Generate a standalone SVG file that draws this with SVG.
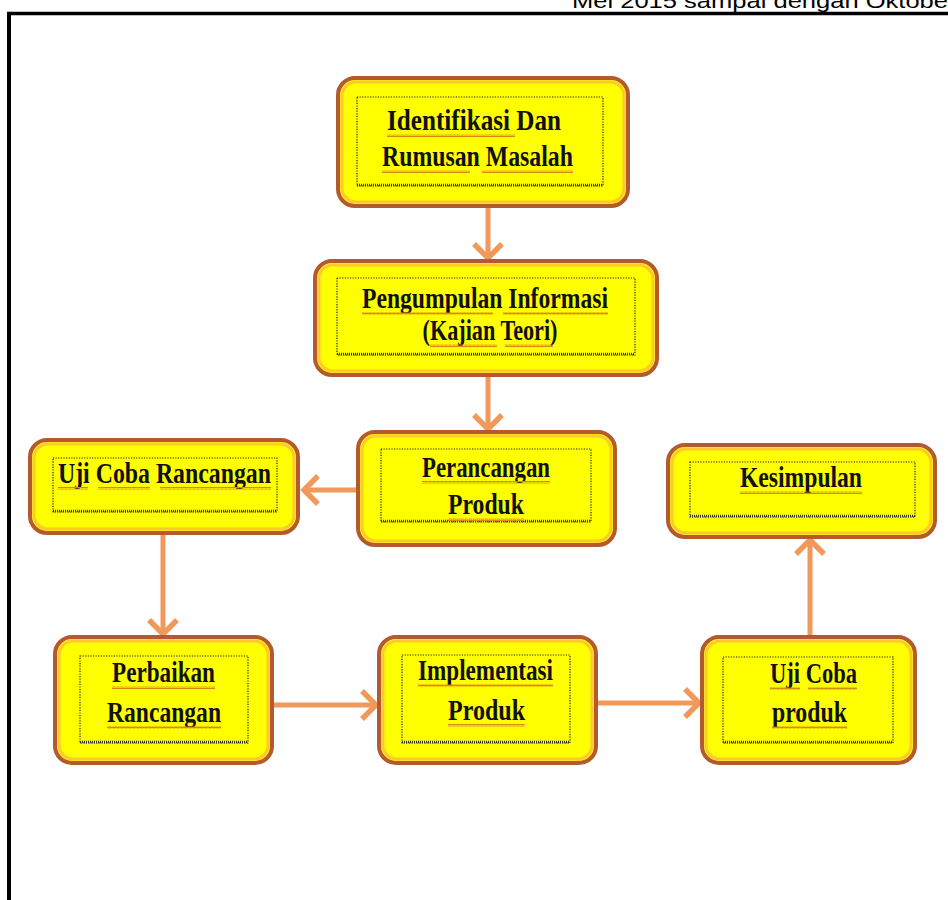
<svg xmlns="http://www.w3.org/2000/svg" width="948" height="900" viewBox="0 0 948 900">
<style>
.box{fill:#ffff00;stroke:#b35a2e;stroke-width:4}
.glow{fill:none;stroke:#ffc830;stroke-width:3}
.inner{fill:none;stroke:#222;stroke-width:1.2;stroke-dasharray:1.2 1.4}
.innerb{fill:none;stroke:#333;stroke-width:2.4;stroke-dasharray:1 1}
.lbl{font-family:"Liberation Serif","Times New Roman",serif;font-weight:bold;font-size:29px;fill:#111;text-anchor:middle}
.wv{fill:url(#wave)}
.conn{stroke:#f0995a;stroke-width:5;fill:none;stroke-linecap:butt}
.hdr{font-family:"Liberation Sans",Arial,sans-serif;font-size:20px;fill:#000}
</style>
<defs>
<pattern id="wave" x="0" y="0" width="4" height="3" patternUnits="userSpaceOnUse">
<path d="M0,2.5 L1,0.5 L2,2.5 L3,0.5 L4,2.5" fill="none" stroke="#d88a10" stroke-width="1"/>
</pattern>
<marker id="ah" markerUnits="userSpaceOnUse" markerWidth="28" markerHeight="34" refX="17" refY="16" orient="auto" viewBox="0 0 28 32">
<path d="M3,2 L17,16 L3,30" fill="none" stroke="#f0995a" stroke-width="5.5" stroke-linejoin="miter"/>
</marker>
</defs>

<text class="hdr" x="572" y="8" textLength="376" lengthAdjust="spacingAndGlyphs">Mei 2015 sampai dengan Oktobe</text>
<line x1="7" y1="13.5" x2="948" y2="13.5" stroke="#000" stroke-width="3.5"/>
<line x1="9" y1="12" x2="9" y2="900" stroke="#000" stroke-width="4"/>

<g id="connectors">
<line class="conn" x1="488" y1="208" x2="488" y2="258" marker-end="url(#ah)"/>
<line class="conn" x1="488" y1="377" x2="488" y2="429" marker-end="url(#ah)"/>
<line class="conn" x1="356" y1="490" x2="304" y2="490" marker-end="url(#ah)"/>
<line class="conn" x1="163" y1="535" x2="163" y2="634" marker-end="url(#ah)"/>
<line class="conn" x1="274" y1="705" x2="376" y2="705" marker-end="url(#ah)"/>
<line class="conn" x1="598" y1="703" x2="699" y2="703" marker-end="url(#ah)"/>
<line class="conn" x1="810" y1="635" x2="810" y2="540" marker-end="url(#ah)"/>
</g>

<g id="n1">
<rect class="box" x="338" y="78" width="290" height="128" rx="17"/>
<rect class="glow" x="342" y="82" width="282" height="120" rx="14"/>
<rect class="inner" x="357" y="97" width="246" height="89"/>
<line class="innerb" x1="357" y1="185" x2="603" y2="185"/>
<text class="lbl" x="474" y="130" textLength="174" lengthAdjust="spacingAndGlyphs">Identifikasi Dan</text>
<text class="lbl" x="477.5" y="166" textLength="191" lengthAdjust="spacingAndGlyphs">Rumusan Masalah</text>
<rect class="wv" x="387" y="134" width="128" height="3"/>
<rect class="wv" x="382" y="170" width="88" height="3"/>
<rect class="wv" x="482" y="170" width="91" height="3"/>
</g>

<g id="n2">
<rect class="box" x="315" y="261" width="342" height="114" rx="17"/>
<rect class="glow" x="319" y="265" width="334" height="106" rx="14"/>
<rect class="inner" x="337" y="278" width="298" height="77"/>
<line class="innerb" x1="337" y1="354" x2="635" y2="354"/>
<text class="lbl" x="485" y="308" textLength="246" lengthAdjust="spacingAndGlyphs">Pengumpulan Informasi</text>
<text class="lbl" x="490" y="340" textLength="135" lengthAdjust="spacingAndGlyphs">(Kajian Teori)</text>
<rect class="wv" x="362" y="312" width="131" height="3"/>
<rect class="wv" x="503" y="312" width="105" height="3"/>
<rect class="wv" x="430" y="344" width="67" height="3"/>
<rect class="wv" x="505" y="344" width="48" height="3"/>
</g>

<g id="n3">
<rect class="box" x="358" y="432" width="257" height="113" rx="17"/>
<rect class="glow" x="362" y="436" width="249" height="105" rx="14"/>
<rect class="inner" x="381" y="449" width="210" height="73"/>
<line class="innerb" x1="381" y1="521" x2="591" y2="521"/>
<text class="lbl" x="486" y="477" textLength="128" lengthAdjust="spacingAndGlyphs">Perancangan</text>
<text class="lbl" x="486" y="514" textLength="76" lengthAdjust="spacingAndGlyphs">Produk</text>
<rect class="wv" x="422" y="481" width="128" height="3"/>
<rect class="wv" x="448" y="518" width="76" height="3"/>
</g>

<g id="n4">
<rect class="box" x="30" y="440" width="268" height="93" rx="17"/>
<rect class="glow" x="34" y="444" width="260" height="85" rx="14"/>
<rect class="inner" x="53" y="458" width="224" height="54"/>
<line class="innerb" x1="53" y1="511" x2="277" y2="511"/>
<text class="lbl" x="164.5" y="483" textLength="213" lengthAdjust="spacingAndGlyphs">Uji Coba Rancangan</text>
<rect class="wv" x="58" y="487" width="30" height="3"/>
<rect class="wv" x="98" y="487" width="52" height="3"/>
<rect class="wv" x="160" y="487" width="111" height="3"/>
</g>

<g id="n5">
<rect class="box" x="55" y="637" width="217" height="126" rx="17"/>
<rect class="glow" x="59" y="641" width="209" height="118" rx="14"/>
<rect class="inner" x="80" y="656" width="168" height="87"/>
<line class="innerb" x1="80" y1="742" x2="248" y2="742"/>
<text class="lbl" x="163.5" y="682" textLength="103" lengthAdjust="spacingAndGlyphs">Perbaikan</text>
<text class="lbl" x="164" y="722" textLength="114" lengthAdjust="spacingAndGlyphs">Rancangan</text>
<rect class="wv" x="112" y="686" width="103" height="3"/>
<rect class="wv" x="107" y="726" width="114" height="3"/>
</g>

<g id="n6">
<rect class="box" x="379" y="637" width="217" height="126" rx="17"/>
<rect class="glow" x="383" y="641" width="209" height="118" rx="14"/>
<rect class="inner" x="402" y="655" width="168" height="88"/>
<line class="innerb" x1="402" y1="742" x2="570" y2="742"/>
<text class="lbl" x="485.5" y="680" textLength="135" lengthAdjust="spacingAndGlyphs">Implementasi</text>
<text class="lbl" x="486.5" y="720" textLength="77" lengthAdjust="spacingAndGlyphs">Produk</text>
<rect class="wv" x="418" y="684" width="135" height="3"/>
<rect class="wv" x="448" y="724" width="77" height="3"/>
</g>

<g id="n7">
<rect class="box" x="702" y="637" width="213" height="126" rx="17"/>
<rect class="glow" x="706" y="641" width="205" height="118" rx="14"/>
<rect class="inner" x="723" y="657" width="170" height="86"/>
<line class="innerb" x1="723" y1="742" x2="893" y2="742"/>
<text class="lbl" x="813.5" y="683" textLength="87" lengthAdjust="spacingAndGlyphs">Uji Coba</text>
<text class="lbl" x="809.5" y="722" textLength="75" lengthAdjust="spacingAndGlyphs">produk</text>
<rect class="wv" x="770" y="687" width="30" height="3"/>
<rect class="wv" x="808" y="687" width="49" height="3"/>
<rect class="wv" x="772" y="726" width="75" height="3"/>
</g>

<g id="n8">
<rect class="box" x="668" y="445" width="267" height="92" rx="17"/>
<rect class="glow" x="672" y="449" width="259" height="84" rx="14"/>
<rect class="inner" x="690" y="462" width="225" height="55"/>
<line class="innerb" x1="690" y1="516" x2="915" y2="516"/>
<text class="lbl" x="801" y="487" textLength="122" lengthAdjust="spacingAndGlyphs">Kesimpulan</text>
<rect class="wv" x="740" y="491" width="122" height="3"/>
</g>
</svg>
